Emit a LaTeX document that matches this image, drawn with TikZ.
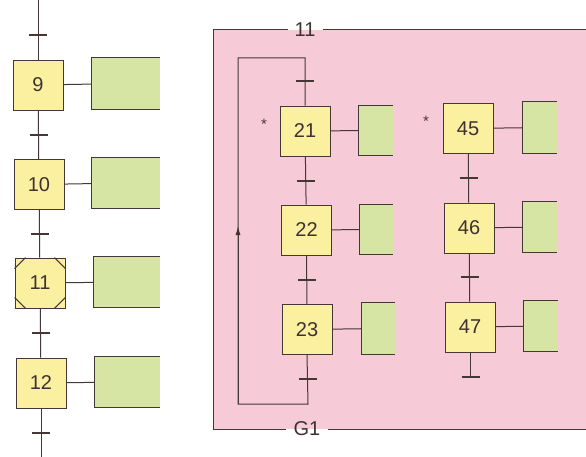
\documentclass[tikz,border=0pt]{standalone}
\usepackage{fontspec}
\setmainfont{Liberation Sans}
\usetikzlibrary{arrows.meta}
\definecolor{ln}{RGB}{70,55,55}
\definecolor{stepfill}{RGB}{250,240,160}
\definecolor{actfill}{RGB}{214,228,164}
\definecolor{pinkbg}{RGB}{246,202,215}
\tikzset{
  stepbox/.style={draw=ln, line width=0.9pt, fill=stepfill, minimum width=50pt, minimum height=50pt, inner sep=0pt, font=\fontsize{20}{20}\selectfont, text=ln!90!black},
  actbox/.style={fill=actfill, inner sep=0pt},
  link/.style={draw=ln, line width=1pt},
  trans/.style={draw=ln, line width=2pt},
  lbl/.style={inner sep=0pt, font=\fontsize{20}{20}\selectfont, text=ln!90!black},
  star/.style={inner sep=0pt, font=\fontsize{15}{15}\selectfont, text=ln},
}
\newcommand{\actopen}[1]{\draw[link] (#1.north east) -- (#1.north west) -- (#1.south west) -- (#1.south east);}
\begin{document}
\begin{tikzpicture}[x=1pt,y=-1pt]
\useasboundingbox (0,0) rectangle (586,457);
\fill[white] (0,0) rectangle (586,457);
% macro-step frame
\fill[pinkbg] (213,30) rectangle (600,429);
\node[lbl] (lab11) at (305,30) {11};
\node[lbl] (labG1) at (307,429) {G1};
\coordinate (ftl) at (213,30);
\coordinate (fbl) at (213,429);
\coordinate (ftr) at (600,30);
\coordinate (fbr) at (600,429);
\draw[link] (lab11.west) ++(-6,0) -- (ftl) -- (fbl) -- ([xshift=-7pt]labG1.west);
\draw[link] ([xshift=7pt]lab11.east) -- (ftr);
\draw[link] ([xshift=7pt]labG1.east) -- (fbr);

% left chain
\coordinate (ltop) at (38,0);
\coordinate (lbot) at (41,457);
\node[stepbox] (s9) at (38,85) {9};
\node[stepbox] (s10) at (39,184.5) {10};
\node[stepbox] (s11) at (40,283) {11};
\node[stepbox] (s12) at (41,383) {12};
\draw[link] (ltop) -- (s9.north);
\draw[link] (s9) -- (s10);
\draw[link] (s10) -- (s11);
\draw[link] (s11) -- (s12);
\draw[link] (s12.south) -- (lbot);
% macro step corners
\draw[link] ([yshift=-11pt]s11.north west) -- ([xshift=11pt]s11.north west);
\draw[link] ([yshift=-11pt]s11.north east) -- ([xshift=-11pt]s11.north east);
\draw[link] ([yshift=11pt]s11.south west) -- ([xshift=11pt]s11.south west);
\draw[link] ([yshift=11pt]s11.south east) -- ([xshift=-11pt]s11.south east);
% transitions left
\foreach \x/\y in {38/35, 38.5/135, 39.5/234, 40.5/333, 41/433}
  \draw[trans] (\x-9,\y) -- (\x+9,\y);
% actions left
\node[actbox, minimum width=68pt, minimum height=51pt] (a9) at (126,83.5) {};
\node[actbox, minimum width=68pt, minimum height=50pt] (a10) at (126,183) {};
\node[actbox, minimum width=66pt, minimum height=50pt] (a11) at (127,282) {};
\node[actbox, minimum width=65pt, minimum height=50pt] (a12) at (127.5,382) {};
\actopen{a9}\actopen{a10}\actopen{a11}\actopen{a12}
\draw[link] (s9) -- (a9);
\draw[link] (s10) -- (a10);
\draw[link] (s11) -- (a11);
\draw[link] (s12) -- (a12);

% chain 1 (21-23)
\node[stepbox] (s21) at (305,131) {21};
\node[stepbox] (s22) at (306.5,230) {22};
\node[stepbox] (s23) at (307,329.5) {23};
\node[star] (st21) at (264,124) {*};
\coordinate (c1a) at (308,404);
\coordinate (c1b) at (238,404);
\coordinate (c1c) at (238,58);
\coordinate (c1d) at (305,58);
\draw[link] (s21) -- (s22);
\draw[link] (s22) -- (s23);
\draw[link] (s23.south) -- (c1a) -- (c1b) -- (c1c) -- (c1d) -- (s21.north);
\draw[ln, line width=1pt, -{Latex[length=9pt,width=5pt]}] (c1b) -- (238,226);
\foreach \x/\y in {305/81, 306/181, 307/280, 308/379}
  \draw[trans] (\x-9,\y) -- (\x+9,\y);
\node[actbox, minimum width=34pt, minimum height=49pt] (a21) at (376,130.5) {};
\node[actbox, minimum width=33pt, minimum height=49pt] (a22) at (376.5,229.5) {};
\node[actbox, minimum width=33pt, minimum height=51pt] (a23) at (378.5,328.5) {};
\actopen{a21}\actopen{a22}\actopen{a23}
\draw[link] (s21) -- (a21);
\draw[link] (s22) -- (a22);
\draw[link] (s23) -- (a23);

% chain 2 (45-47)
\node[stepbox] (s45) at (468,128.5) {45};
\node[stepbox] (s46) at (469,228) {46};
\node[stepbox] (s47) at (470,327) {47};
\node[star] (st45) at (426,121) {*};
\coordinate (c2end) at (470,377);
\draw[link] (s45) -- (s46);
\draw[link] (s46) -- (s47);
\draw[link] (s47.south) -- (c2end);
\foreach \x/\y in {468.5/178, 469.5/277, 470.5/377}
  \draw[trans] (\x-9,\y) -- (\x+9,\y);
\node[actbox, minimum width=34pt, minimum height=51pt] (a45) at (540,127.5) {};
\node[actbox, minimum width=34pt, minimum height=50pt] (a46) at (540,227) {};
\node[actbox, minimum width=34pt, minimum height=50pt] (a47) at (541,326) {};
\actopen{a45}\actopen{a46}\actopen{a47}
\draw[link] (s45) -- (a45);
\draw[link] (s46) -- (a46);
\draw[link] (s47) -- (a47);
\end{tikzpicture}
\end{document}
